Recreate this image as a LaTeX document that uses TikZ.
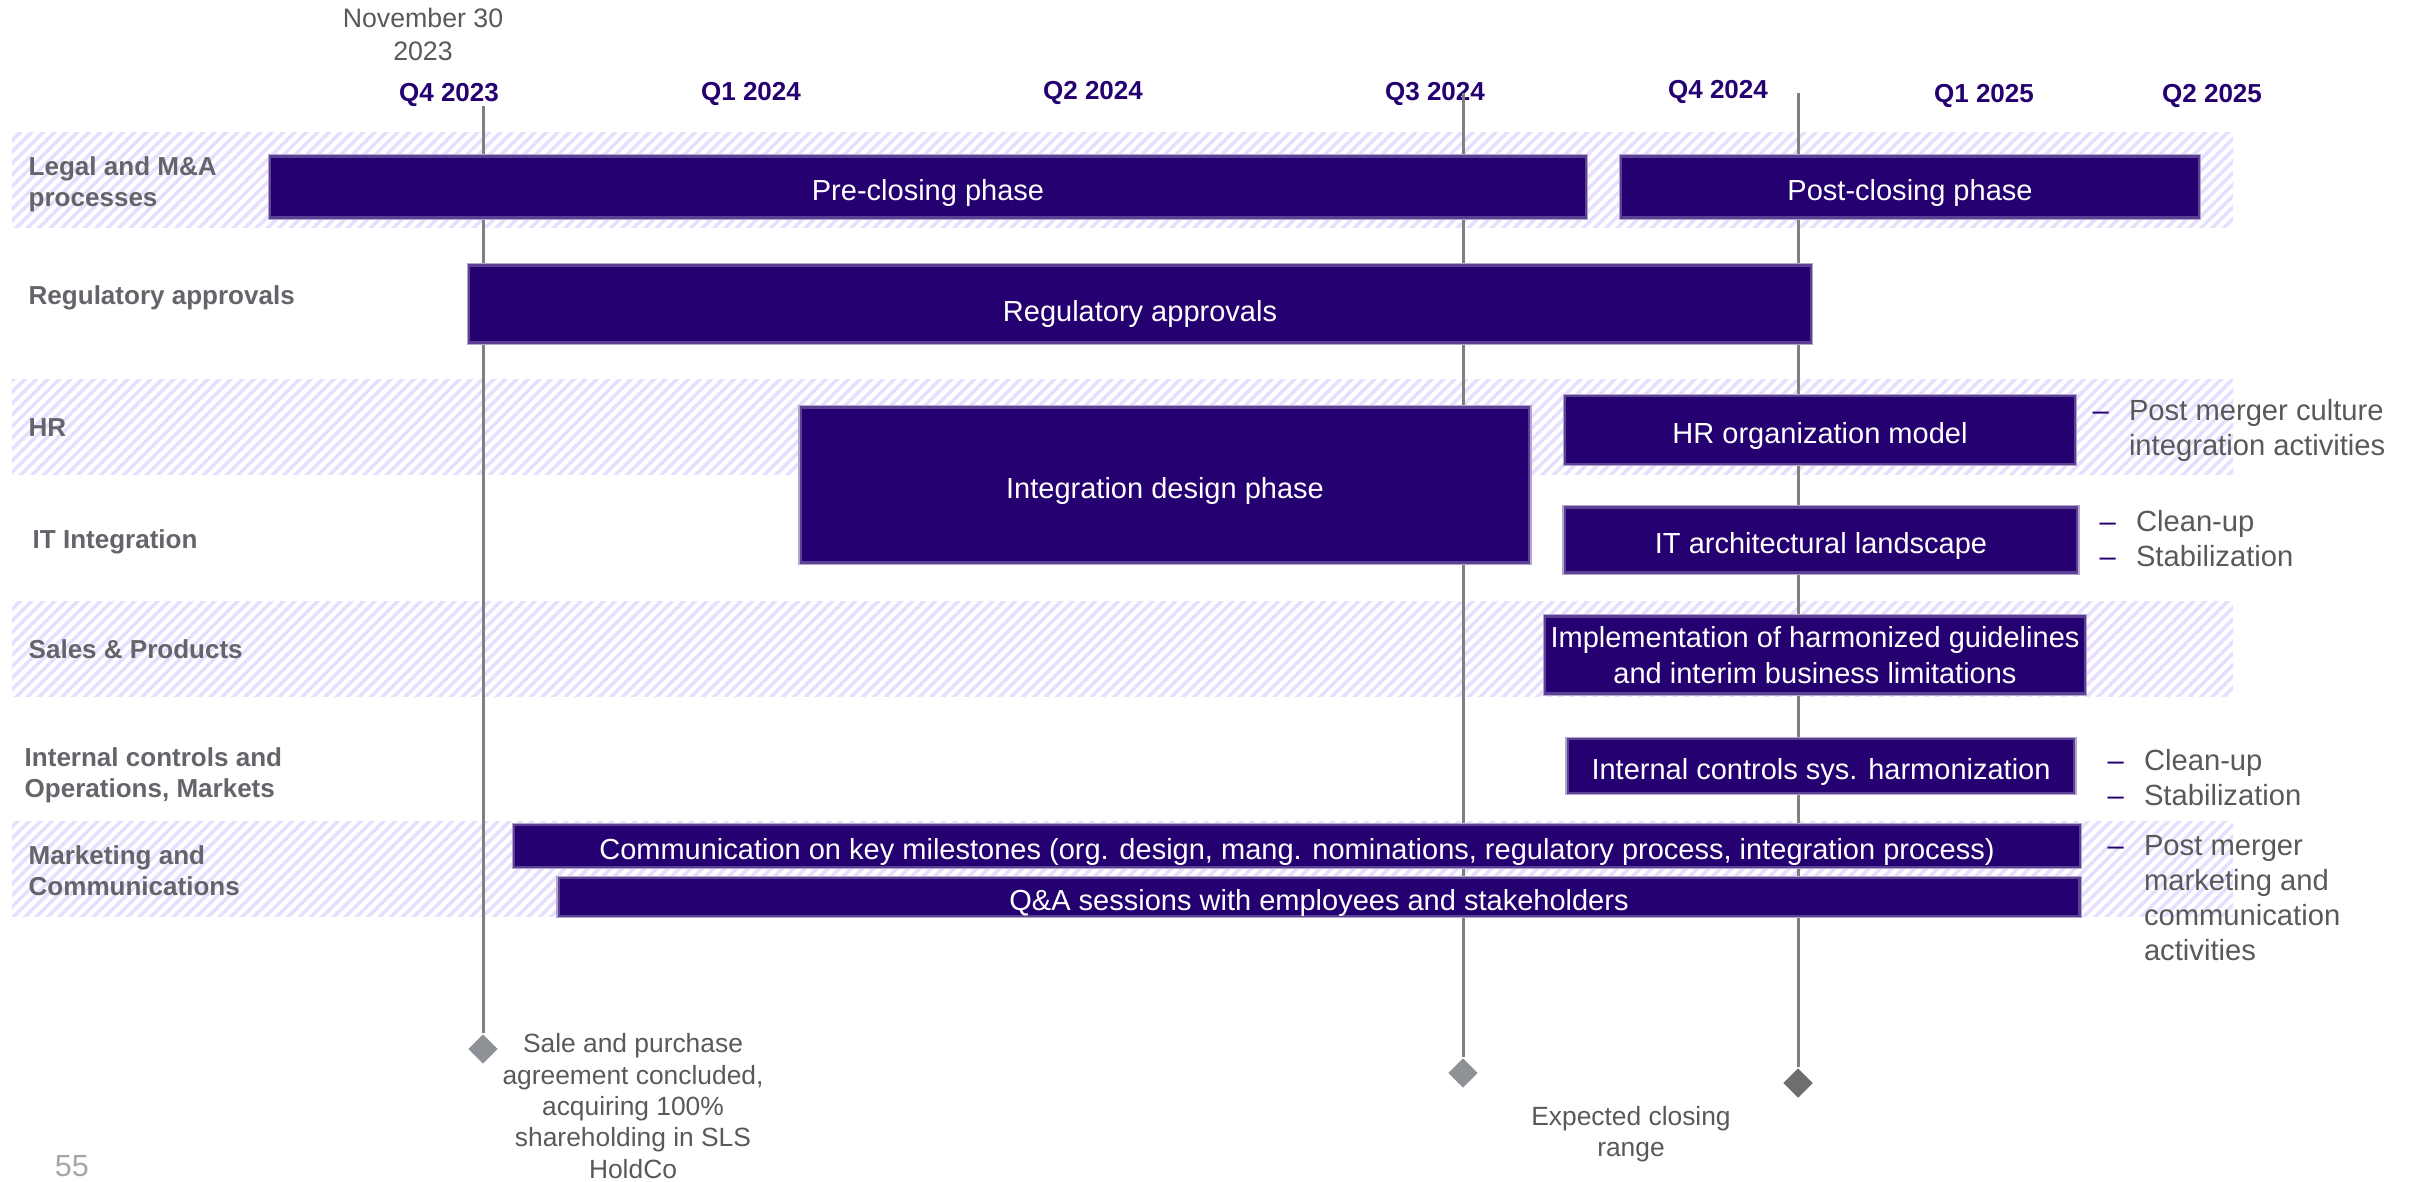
\documentclass[tikz,border=0pt]{standalone}
\usepackage{fontspec}
\setmainfont{Liberation Sans}
\usetikzlibrary{positioning,shapes.geometric,patterns.meta}
\definecolor{barpurple}{RGB}{36,0,112}
\definecolor{labelgray}{RGB}{100,101,106}
\definecolor{notegray}{RGB}{89,89,89}
\definecolor{hatchlilac}{RGB}{230,222,255}
\definecolor{linegray}{RGB}{128,128,128}
\definecolor{markgray}{RGB}{142,145,150}
\definecolor{markdark}{RGB}{110,110,110}
\definecolor{pagegray}{RGB}{166,166,166}
\newcommand{\barfont}{\fontsize{8.25}{10.4}\selectfont}
\newcommand{\rowfont}{\fontsize{7.4}{8.9}\selectfont\bfseries}
\newcommand{\notefont}{\fontsize{8.3}{10}\selectfont}
\newcommand{\milefont}{\fontsize{7.5}{8.9}\selectfont}
\newcommand{\dashitem}{\textcolor{barpurple}{–}}
\tikzset{
  bandrow/.style={pattern={Lines[angle=45,distance=2.3pt,line width=1pt]}, pattern color=hatchlilac},
  phasebar/.style={fill=barpurple, draw=barpurple!75, line width=0.6pt, preaction={draw=barpurple!35, line width=1.4pt}, text=white, align=center, inner sep=0pt, font=\barfont},
  onelinebar/.style={phasebar, text height=7.75pt, text depth=0pt},
  rowlabel/.style={anchor=west, align=left, text=labelgray, font=\rowfont, inner sep=0pt},
  quarter/.style={text=barpurple, font=\rowfont, inner sep=0pt},
  sidenote/.style={anchor=west, text=notegray, font=\notefont, inner sep=0pt},
  milestone/.style={diamond, fill=markgray, minimum width=0.3cm, minimum height=0.3cm, inner sep=0pt},
  milenote/.style={text=notegray, align=center, font=\milefont, inner sep=0pt},
  timeline/.style={draw=linegray, line width=0.85pt}
}

\begin{document}
\begin{tikzpicture}[x=0.01cm, y=-0.01cm]
  \useasboundingbox (0,0) rectangle (2415,1182);

  % hatched rows
  \path[bandrow] (12,133) rectangle (2233,228);
  \path[bandrow] (12,379) rectangle (2233,474);
  \path[bandrow] (12,601) rectangle (2233,696);
  \path[bandrow] (12,821) rectangle (2233,916);

  % time axis
  \node[milenote, font=\fontsize{7.6}{9.4}\selectfont] (nov) at (423,34) {November 30\\2023};
  \node[quarter] (q1) at (449,95) {Q4 2023};
  \node[quarter] (q2) at (751,94) {Q1 2024};
  \node[quarter] (q3) at (1093,93) {Q2 2024};
  \node[quarter] (q4) at (1435,94) {Q3 2024};
  \node[quarter] (q5) at (1718,92) {Q4 2024};
  \node[quarter] (q6) at (1984,96) {Q1 2025};
  \node[quarter] (q7) at (2212,96) {Q2 2025};

  % row labels
  \node[rowlabel] (legal) at (28,184) {Legal and M\&A\\processes};
  \node[rowlabel] (regul) at (28,298) {Regulatory approvals};
  \node[rowlabel] (hr) at (28,428) {HR};
  \node[rowlabel] (it) at (32,542) {IT Integration};
  \node[rowlabel] (sales) at (28,649) {Sales \& Products};
  \node[rowlabel] (intctl) at (24,775) {Internal controls and\\Operations, Markets};
  \node[rowlabel] (mkt) at (28,871) {Marketing and\\Communications};

  % milestones
  \coordinate (spatop) at (483,106);
  \coordinate (closeatop) at (1463,93);
  \coordinate (closebtop) at (1798,93);
  \node[milestone] (spa) at (483,1049) {};
  \node[milestone] (closea) at (1463,1073) {};
  \node[milestone, fill=markdark] (closeb) at (1798,1083) {};
  \draw[timeline] (spatop) -- (spa.north);
  \draw[timeline] (closeatop) -- (closea.north);
  \draw[timeline] (closebtop) -- (closeb.north);
  \node[milenote] (spanote) at (633,1106) {Sale and purchase\\agreement concluded,\\acquiring 100\%\\shareholding in SLS\\HoldCo};
  \node[milenote] (closenote) at (1631,1134) {Expected closing\\range};
  \node[text=pagegray, font=\fontsize{8.7}{10}\selectfont, inner sep=0pt] (page) at (72,1166) {55};

  % phase bars
  \node[onelinebar, minimum width=13.15cm, minimum height=0.61cm] (pre) at (928,187) {Pre-closing phase};
  \node[onelinebar, minimum width=5.77cm, minimum height=0.61cm] (post) at (1910,187) {Post-closing phase};
  \node[onelinebar, text height=9.8pt, minimum width=13.41cm, minimum height=0.77cm] (reg) at (1140,304) {Regulatory approvals};
  \node[onelinebar, minimum width=7.28cm, minimum height=1.55cm] (design) at (1165,485) {Integration design phase};
  \node[onelinebar, minimum width=5.09cm, minimum height=0.68cm] (hrmodel) at (1820,430) {HR organization model};
  \node[onelinebar, minimum width=5.12cm, minimum height=0.65cm] (itland) at (1821,540) {IT architectural landscape};
  \node[phasebar, minimum width=5.39cm, minimum height=0.77cm] (guide) at (1815,655) {Implementation of harmonized guidelines\\and interim business limitations};
  \node[onelinebar, minimum width=5.06cm, minimum height=0.54cm] (ctrl) at (1821,766) {Internal controls sys. harmonization};
  \node[onelinebar, minimum width=15.65cm, minimum height=0.42cm] (comm) at (1297,846) {Communication on key milestones (org. design, mang. nominations, regulatory process, integration process)};
  \node[onelinebar, minimum width=15.20cm, minimum height=0.38cm] (qa) at (1319,897) {Q\&A sessions with employees and stakeholders};

  % follow-up notes
  \node[sidenote] (hrnote) at (2092,431) {\begin{tabular}{@{}l@{\hspace{5.7pt}}l@{}}\dashitem & Post merger culture\\ & integration activities\end{tabular}};
  \node[sidenote] (itnote) at (2099,542) {\begin{tabular}{@{}l@{\hspace{5.7pt}}l@{}}\dashitem & Clean-up\\ \dashitem & Stabilization\end{tabular}};
  \node[sidenote] (ctrlnote) at (2107,781) {\begin{tabular}{@{}l@{\hspace{5.7pt}}l@{}}\dashitem & Clean-up\\ \dashitem & Stabilization\end{tabular}};
  \node[sidenote] (mktnote) at (2107,901) {\begin{tabular}{@{}l@{\hspace{5.7pt}}l@{}}\dashitem & Post merger\\ & marketing and\\ & communication\\ & activities\end{tabular}};
\end{tikzpicture}
\end{document}
